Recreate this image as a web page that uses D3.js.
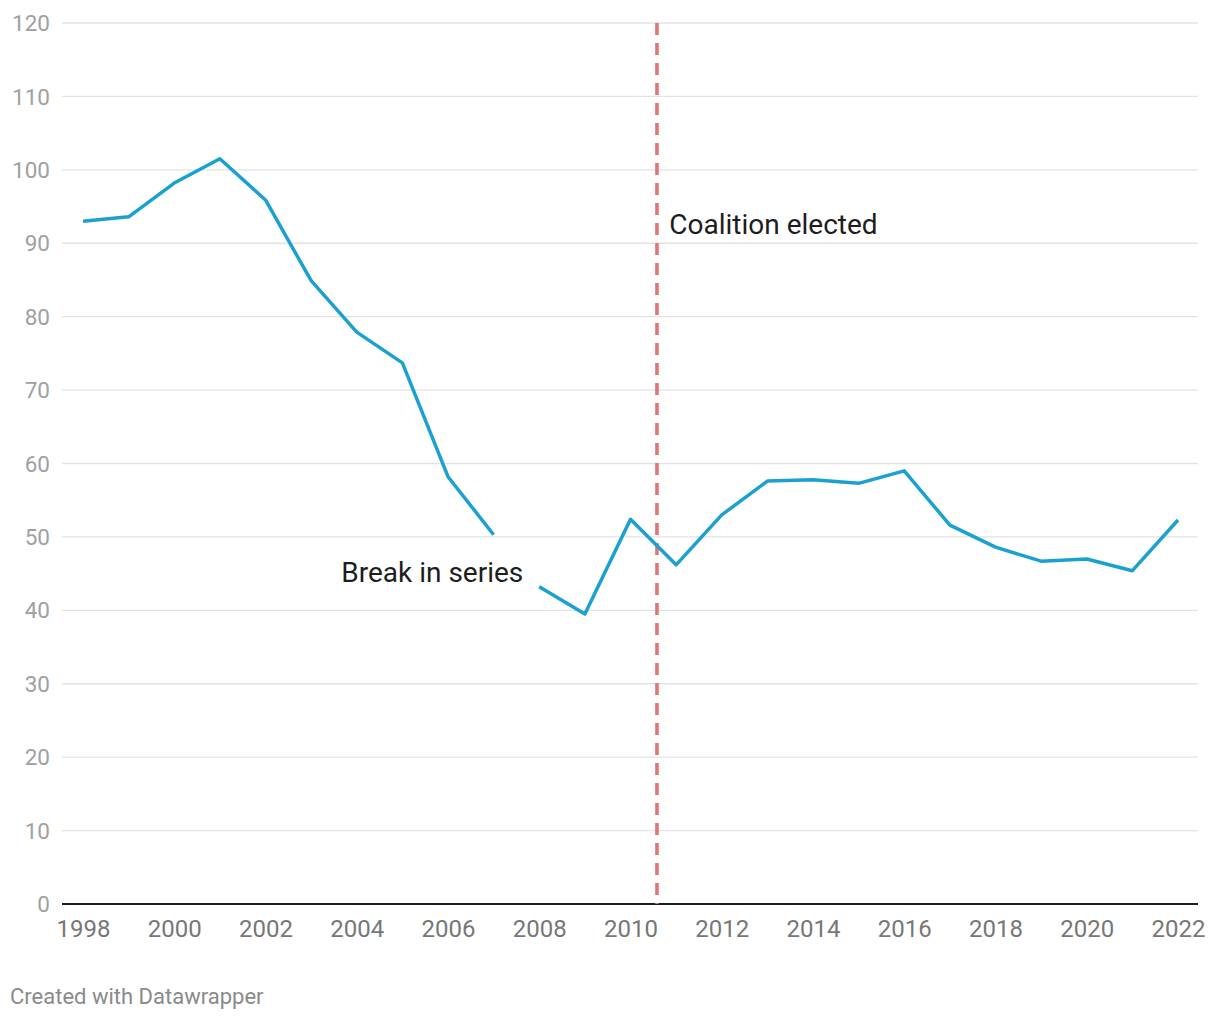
<!DOCTYPE html>
<html>
<head>
<meta charset="utf-8">
<script src="https://cdn.jsdelivr.net/npm/d3@7"></script>
<style>
  html, body { margin: 0; padding: 0; background: #fff; }
  svg { display: block; font-family: Roboto, sans-serif; }
</style>
</head>
<body>
<svg id="chart" width="1220" height="1020"></svg>
<script>
const yearsA = [1998, 1999, 2000, 2001, 2002, 2003, 2004, 2005, 2006, 2007];
const valuesA = [93.0, 93.6, 98.2, 101.5, 95.9, 84.9, 77.9, 73.7, 58.2, 50.3];
const yearsB = [2008, 2009, 2010, 2011, 2012, 2013, 2014, 2015, 2016, 2017, 2018, 2019, 2020, 2021, 2022];
const valuesB = [43.2, 39.5, 52.4, 46.2, 53.0, 57.6, 57.8, 57.3, 59.0, 51.6, 48.6, 46.7, 47.0, 45.4, 52.3];
const xTicks = [1998, 2000, 2002, 2004, 2006, 2008, 2010, 2012, 2014, 2016, 2018, 2020, 2022];
const yTicks = [0, 10, 20, 30, 40, 50, 60, 70, 80, 90, 100, 110, 120];
const electionYear = 2010.58;
const annotations = [
  { text: "Coalition elected", x: 2010.85, y: 91.3, anchor: "start" },
  { text: "Break in series", x: 2007.65, y: 43.9, anchor: "end" }
];

const svg = d3.select("#chart");
const x = d3.scaleLinear().domain([1998, 2022]).range([83, 1178]);
const y = d3.scaleLinear().domain([0, 120]).range([904, 23]);
const plotLeft = 62, plotRight = 1198;

// gridlines
svg.append("g").selectAll("line").data(yTicks.filter(d => d > 0)).join("line")
  .attr("x1", plotLeft).attr("x2", plotRight)
  .attr("y1", d => y(d)).attr("y2", d => y(d))
  .attr("stroke", "#e3e3e3").attr("stroke-width", 1.3);

// y axis labels
svg.append("g").selectAll("text").data(yTicks).join("text")
  .attr("x", 50).attr("y", d => y(d)).attr("dy", "0.36em")
  .attr("text-anchor", "end").attr("font-size", 22.5).attr("fill", "#a0a0a0")
  .text(d => d);

// x axis
const xAxis = d3.axisBottom(x).tickValues(xTicks).tickFormat(d3.format("d")).tickSize(0).tickPadding(16);
const gx = svg.append("g").attr("transform", `translate(0,${y(0)})`).call(xAxis);
gx.select(".domain").remove();
gx.selectAll("text").attr("font-size", 24).attr("fill", "#777").attr("font-family", "Roboto, sans-serif");

// baseline
svg.append("line").attr("x1", plotLeft).attr("x2", plotRight)
  .attr("y1", y(0)).attr("y2", y(0)).attr("stroke", "#1d1d1d").attr("stroke-width", 2.2);

// election line
svg.append("line").attr("x1", x(electionYear)).attr("x2", x(electionYear))
  .attr("y1", y(120)).attr("y2", y(0))
  .attr("stroke", "#e07676").attr("stroke-width", 3.6).attr("stroke-dasharray", "12,8");

// series lines
const line = d3.line().x(d => x(d[0])).y(d => y(d[1]));
[[yearsA, valuesA], [yearsB, valuesB]].forEach(([ys, vs]) => {
  svg.append("path").datum(ys.map((yr, i) => [yr, vs[i]]))
    .attr("d", line).attr("fill", "none")
    .attr("stroke", "#1aa1cf").attr("stroke-width", 3.5)
    .attr("stroke-linejoin", "round");
});

// annotations
svg.append("g").selectAll("text").data(annotations).join("text")
  .attr("x", d => x(d.x)).attr("y", d => y(d.y))
  .attr("text-anchor", d => d.anchor)
  .attr("font-size", 28).attr("fill", "#1d1d1d")
  .text(d => d.text);

// credit
svg.append("text").attr("x", 10).attr("y", 1004)
  .attr("font-size", 22).attr("fill", "#8a8a8a")
  .text("Created with Datawrapper");
</script>
</body>
</html>
